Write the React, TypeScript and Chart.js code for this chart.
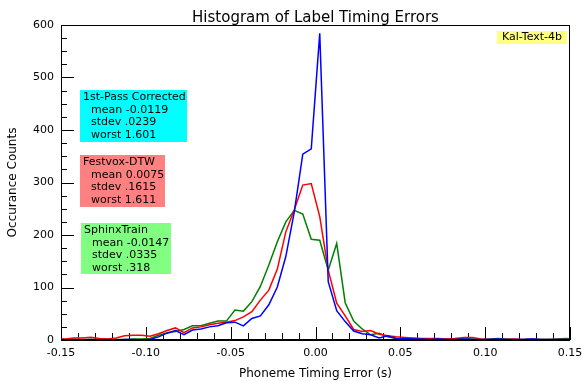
import React, { useEffect, useRef } from "react";
import { Chart, registerables } from "chart.js";

Chart.register(...registerables);

// Histogram bins: centres from -0.1525 to 0.1525 every 0.005 s (edge bins are clipped by the axis)
const binStart = -0.1525;
const binWidth = 0.005;
const binCount = 62;
const binCenters = Array.from({ length: binCount }, (_, i) => +(binStart + binWidth * i).toFixed(4));

const firstPassCounts = [
  0,
  0, 1, 0, 1, 0, 1, 0, 1, 1, 0,
  1, 6, 13, 18, 10, 19, 21, 25, 27, 33,
  34, 27, 41, 46, 67, 101, 159, 244, 354, 364,
  584, 111, 56, 35, 17, 12, 10, 4, 8, 3,
  3, 2, 2, 1, 2, 1, 1, 2, 1, 1,
  1, 2, 1, 1, 1, 2, 1, 1, 1, 1,
  1,
];

const festvoxCounts = [
  2,
  2, 4, 4, 5, 3, 2, 4, 8, 9, 9,
  7, 12, 18, 23, 14, 23, 25, 29, 32, 34,
  37, 44, 54, 76, 95, 135, 206, 248, 295, 298,
  235, 133, 70, 46, 20, 16, 18, 11, 8, 6,
  5, 4, 3, 3, 3, 2, 3, 5, 5, 2,
  1, 1, 1, 2, 1, 1, 1, 1, 1, 1,
  1,
];

const sphinxCounts = [
  1,
  1, 1, 1, 1, 2, 1, 1, 1, 2, 2,
  3, 9, 14, 16, 20, 27, 27, 32, 36, 36,
  57, 55, 73, 102, 143, 187, 225, 247, 240, 192,
  190, 133, 184, 71, 36, 21, 10, 13, 6, 3,
  2, 3, 2, 1, 2, 1, 3, 2, 2, 1,
  2, 3, 2, 1, 1, 2, 1, 1, 2, 3,
  2,
];

const seriesNames = ["1st-Pass Corrected", "Festvox-DTW", "SphinxTrain"];
const seriesColors = ["#0000ff", "#ff0000", "#008000"];
const boxColors = ["#00ffff", "#ff8080", "#80ff80"];
const statMeans = ["-0.0119", "0.0075", "-0.0147"];
const statStdevs = [".0239", ".1615", ".0335"];
const statWorsts = ["1.601", "1.611", ".318"];
const cornerLabel = "Kal-Text-4b";

const xTickLabels = ["-0.15", "-0.10", "-0.05", "0.00", "0.05", "0.10", "0.15"];
const yTickLabels = ["0", "100", "200", "300", "400", "500", "600"];

const FONT = "'DejaVu Sans', Verdana, sans-serif";

const decorPlugin = {
  id: "decor",
  beforeDatasetsDraw(chart: any) {
    const { ctx, chartArea } = chart;
    const xs = chart.scales.x;
    const ys = chart.scales.y;
    ctx.save();
    ctx.strokeStyle = "#000";
    ctx.lineWidth = 1;
    // x ticks (inside, pointing up)
    for (let i = -15; i <= 15; i++) {
      const v = i / 100;
      const px = Math.round(xs.getPixelForValue(v)) + 0.5;
      const len = i % 5 === 0 ? 13 : 7;
      ctx.beginPath();
      ctx.moveTo(px, chartArea.bottom);
      ctx.lineTo(px, chartArea.bottom - len);
      ctx.stroke();
    }
    // y ticks (inside, pointing right)
    for (let v = 0; v <= 600; v += 25) {
      const py = Math.round(ys.getPixelForValue(v)) + 0.5;
      const len = v % 100 === 0 ? 13 : 6;
      ctx.beginPath();
      ctx.moveTo(chartArea.left, py);
      ctx.lineTo(chartArea.left + len, py);
      ctx.stroke();
    }
    ctx.restore();
  },
  afterDatasetsDraw(chart: any) {
    const { ctx, chartArea } = chart;
    ctx.save();
    // frame
    ctx.strokeStyle = "#000";
    ctx.lineWidth = 1;
    ctx.strokeRect(chartArea.left + 0.5, chartArea.top + 0.5, chartArea.right - chartArea.left - 1, chartArea.bottom - chartArea.top);
    ctx.lineWidth = 2;
    ctx.beginPath();
    ctx.moveTo(chartArea.left, chartArea.bottom);
    ctx.lineTo(chartArea.right, chartArea.bottom);
    ctx.stroke();

    ctx.font = `11px ${FONT}`;
    ctx.textBaseline = "middle";
    ctx.textAlign = "left";
    const boxes = [
      { x: 80, y: 90, w: 107, h: 52 },
      { x: 80, y: 155, w: 85, h: 52 },
      { x: 81, y: 223, w: 90, h: 51 },
    ];
    boxes.forEach((b, i) => {
      ctx.fillStyle = boxColors[i];
      ctx.fillRect(b.x, b.y, b.w, b.h);
      ctx.fillStyle = "#000";
      const lines = [seriesNames[i], "mean " + statMeans[i], "stdev " + statStdevs[i], "worst " + statWorsts[i]];
      lines.forEach((t, j) => {
        ctx.fillText(t, b.x + (j === 0 ? 3 : 11), b.y + 7 + j * 12.7);
      });
    });
    // corner label
    ctx.fillStyle = "#ffff80";
    ctx.fillRect(497, 31, 70, 13);
    ctx.fillStyle = "#000";
    ctx.textAlign = "center";
    ctx.fillText(cornerLabel, 532, 37.5);
    ctx.restore();
  },
};

export default function App() {
  const ref = useRef<HTMLCanvasElement>(null);
  useEffect(() => {
    document.body.style.margin = "0";
    const canvas = ref.current!;
    const datasets = [firstPassCounts, festvoxCounts, sphinxCounts].map((vals, i) => ({
      label: seriesNames[i],
      data: binCenters.map((x, k) => ({ x, y: vals[k] })),
      borderColor: seriesColors[i],
      backgroundColor: seriesColors[i],
      borderWidth: 1.5,
      pointRadius: 0,
      tension: 0,
      fill: false,
    }));
    const chart = new Chart(canvas, {
      type: "line",
      data: { datasets },
      options: {
        animation: false,
        responsive: false,
        layout: { padding: { left: 0, right: 13, top: 0, bottom: 0 } },
        plugins: {
          legend: { display: false },
          tooltip: { enabled: false },
          title: {
            display: true,
            text: "Histogram of Label Timing Errors",
            fullSize: false,
            color: "#000",
            font: { family: FONT, size: 15, weight: "normal", lineHeight: 14 / 15 },
            padding: { top: 11, bottom: 0 },
          },
        },
        scales: {
          x: {
            type: "linear",
            min: -0.15,
            max: 0.15,
            border: { display: false },
            grid: { display: false, drawTicks: false },
            ticks: {
              stepSize: 0.05,
              autoSkip: false,
              maxRotation: 0,
              padding: 7,
              color: "#000",
              font: { family: FONT, size: 11 },
              callback: (v: any) => {
                const idx = Math.round((Number(v) + 0.15) / 0.05);
                return xTickLabels[idx] ?? "";
              },
            },
            title: {
              display: true,
              text: "Phoneme Timing Error (s)",
              color: "#000",
              font: { family: FONT, size: 12 },
              padding: { top: 0, bottom: 0 },
            },
            afterFit: (s: any) => {
              s.height = 41;
              s.paddingLeft = 0;
              s.paddingRight = 0;
            },
          },
          y: {
            type: "linear",
            min: 0,
            max: 600,
            border: { display: false },
            grid: { display: false, drawTicks: false },
            ticks: {
              stepSize: 100,
              padding: 7,
              color: "#000",
              font: { family: FONT, size: 11 },
              callback: (v: any) => yTickLabels[Math.round(Number(v) / 100)] ?? "",
            },
            title: {
              display: true,
              text: "Occurance Counts",
              color: "#000",
              font: { family: FONT, size: 12 },
              padding: { top: 6, bottom: 0 },
            },
            afterFit: (s: any) => {
              s.width = 61;
              s.paddingTop = 0;
              s.paddingBottom = 0;
            },
          },
        },
      },
      plugins: [decorPlugin],
    } as any);
    return () => chart.destroy();
  }, []);
  return <canvas ref={ref} width={583} height={381} style={{ display: "block" }} />;
}
